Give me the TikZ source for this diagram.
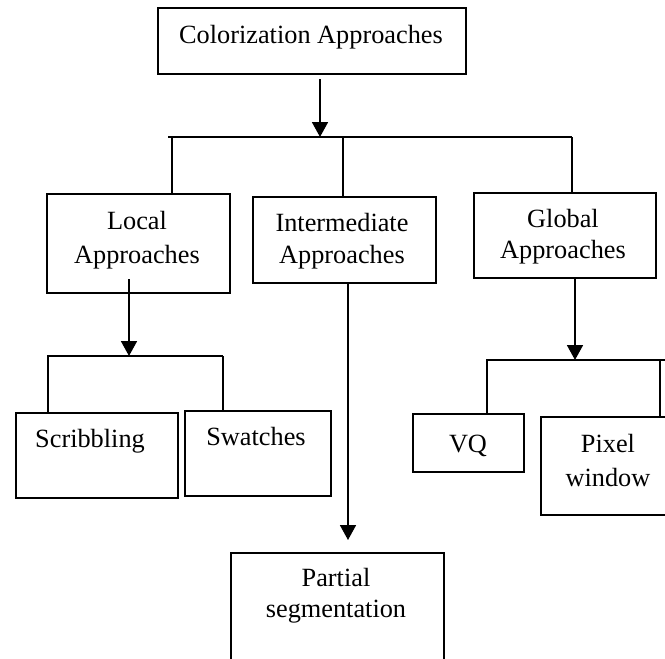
\documentclass[tikz,border=0pt]{standalone}
\usepackage{fontspec}
\setmainfont{Liberation Serif}
\usetikzlibrary{arrows.meta}
\begin{document}
\begin{tikzpicture}[x=1pt,y=-1pt,
  box/.style={draw,line width=1.8pt,rectangle,inner sep=0pt,anchor=north west},
  lbl/.style={font=\fontsize{26.3}{#1}\selectfont,align=center,anchor=base,inner sep=0pt},
  lbl/.default=32,
  conn/.style={line width=1.6pt},
  arr/.style={line width=1.8pt,-{Triangle[length=15pt,width=16pt]}}]
\useasboundingbox (0,0) rectangle (665,659);
\clip (0,0) rectangle (665,659);
% boxes
\node[box,minimum width=308pt,minimum height=66pt] (top) at (157,7) {};
\node[box,minimum width=183pt,minimum height=99pt] (local) at (46,193) {};
\node[box,minimum width=183pt,minimum height=86pt] (inter) at (252,196) {};
\node[box,minimum width=182pt,minimum height=85pt] (global) at (473,192) {};
\node[box,minimum width=162pt,minimum height=85pt] (scrib) at (15,412) {};
\node[box,minimum width=146pt,minimum height=85pt] (swatch) at (184,410) {};
\node[box,minimum width=111pt,minimum height=58pt] (vq) at (412,413) {};
\node[box,minimum width=136pt,minimum height=98pt] (pixel) at (540,416) {};
\node[box,minimum width=213pt,minimum height=130pt] (partial) at (230,552) {};
% texts (anchor = baseline of last line)
\node[lbl] (topT) at (311,43) {Colorization Approaches};
\node[lbl=34] (localT) at (137,263) {Local\\Approaches};
\node[lbl=32] (interT) at (342,263) {Intermediate\\Approaches};
\node[lbl=31] (globalT) at (563,258) {Global\\Approaches};
\node[lbl] (scribT) at (90,447) {Scribbling};
\node[lbl] (swatchT) at (256,445) {Swatches};
\node[lbl] (vqT) at (468,452) {VQ};
\node[lbl=34] (pixelT) at (608,486) {Pixel\\window};
\node[lbl=31] (partialT) at (336,617) {Partial\\segmentation};
% main bar
\coordinate (b1) at (168,137);
\coordinate (b2) at (572,137);
\coordinate (ta) at (320,79);
\draw[arr] (ta) -- (ta |- b1);
\draw[conn] (b1) -- (b2);
\draw[conn] (172,137) -- (local.north -| 172,0);
\draw[conn] (343,137) -- (inter.north -| 343,0);
\draw[conn] (b2) -- (global.north -| b2);
% local sub-tree
\coordinate (la) at (129,279);
\coordinate (s1) at (47,356);
\coordinate (s2) at (223,356);
\draw[arr] (la) -- (la |- s1);
\draw[conn] (s1) -- (s2);
\draw[conn] (48,356) -- (scrib.north -| 48,0);
\draw[conn] (s2) -- (swatch.north -| s2);
% intermediate
\coordinate (ia) at (348,283);
\draw[arr] (ia) -- (348,540);
% global sub-tree
\coordinate (ga) at (575,279);
\coordinate (g1) at (486,360);
\coordinate (g2) at (665,360);
\draw[arr] (ga) -- (ga |- g1);
\draw[conn] (g1) -- (g2);
\draw[conn] (487,360) -- (vq.north -| 487,0);
\draw[conn] (660,360) -- (pixel.north -| 660,0);
\end{tikzpicture}
\end{document}
